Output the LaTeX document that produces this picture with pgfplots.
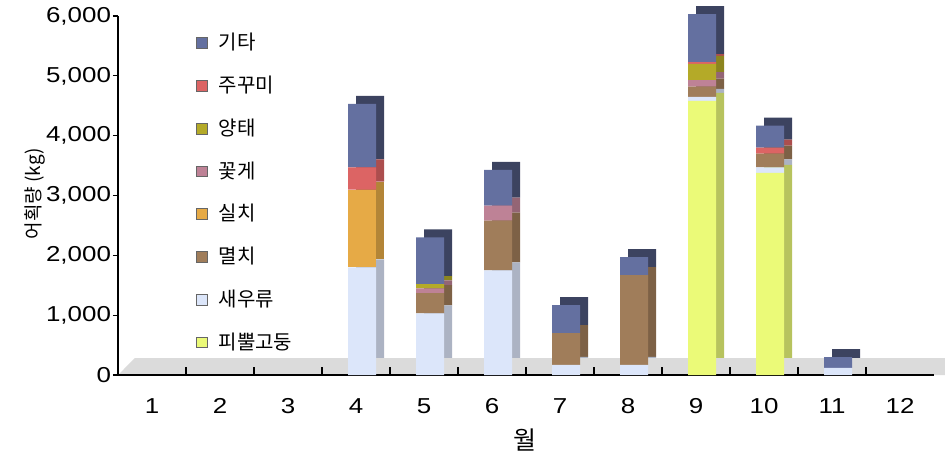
\documentclass[border=0pt]{standalone}
\usepackage{pgfplots}
\pgfplotsset{compat=1.18}
\usepackage{pgfplotstable}
\usepackage{fontspec}
\setmainfont{Liberation Sans}
\newfontfamily\kr{Noto Sans CJK KR}
\newfontfamily\tickfont[FakeStretch=1.2]{Liberation Sans}

\definecolor{cGT}{RGB}{100,112,160}
\definecolor{cJK}{RGB}{220,100,100}
\definecolor{cYT}{RGB}{180,170,40}
\definecolor{cKG}{RGB}{190,130,150}
\definecolor{cSC}{RGB}{230,170,70}
\definecolor{cMC}{RGB}{160,125,90}
\definecolor{cSW}{RGB}{220,230,250}
\definecolor{cPP}{RGB}{235,250,120}

% stack order bottom -> top
\pgfplotstableread{
m  pp   sw   mc   sc   kg   yt   jk   gt
1  0    0    0    0    0    0    0    0
2  0    0    0    0    0    0    0    0
3  0    0    0    0    0    0    0    0
4  0    1800 0    1300 0    0    370  1060
5  0    1030 340  0    80   70   0    780
6  0    1750 830  0    250  0    0    600
7  0    170  530  0    0    0    0    470
8  0    170  1500 0    0    0    0    300
9  4580 70   170  0    110  270  30   800
10 3380 90   230  0    0    0    100  370
11 0    120  0    0    0    0    0    180
12 0    0    0    0    0    0    0    0
}\data

\begin{document}
\begin{tikzpicture}
\pgfplotsset{
  base/.style={width=408pt, height=179.5pt, scale only axis,
    xmin=0.5, xmax=12.5, ymin=0, ymax=6000, clip=false,
    ybar stacked, bar width=14pt, at={(0,0)}, anchor=south west},
}
\begin{axis}[base,
  axis x line=bottom, axis y line=left,
  axis line style={-, black, line width=0.7pt},
  tick align=outside,
  xtick={1,...,12},
  major x tick style={draw=none},
  minor xtick={1.5,2.5,...,11.5},
  minor tick length=4pt,
  minor x tick style={black, line width=0.6pt, yshift=4pt},
  ytick={0,1000,...,6000},
  major tick length=2.5pt,
  y tick style={black, line width=0.6pt},
  scaled y ticks=false,
  /pgf/number format/assume math mode=true,
  /pgf/number format/1000 sep={,},
  ticklabel style={font=\tickfont\fontsize{10.8}{12}\selectfont},
  xticklabel style={anchor=center, yshift=-13pt},
  yticklabel style={anchor=east, xshift=2.5pt},
  xlabel={\kr 월},
  ylabel={\kr 어획량 (kg)},
  every axis x label/.style={at={(axis description cs:0.499,-0.181)}, anchor=center, font=\fontsize{12.5}{14}\selectfont},
  every axis y label/.style={at={(axis description cs:-0.1017,0.505)}, rotate=90, anchor=center, font=\fontsize{9.5}{12}\selectfont},
  axis on top,
  every axis plot/.append style={bar shift=7pt, yshift=4pt, draw=none},
]
\fill[gray!28] (rel axis cs:0,0) -- (rel axis cs:1.0135,0) -- (rel axis cs:1.0135,0.0474) -- (rel axis cs:0.0208,0.0474) -- cycle;
\addplot[fill=cPP!78!black] table[x=m,y=pp] {\data};
\addplot[fill=cSW!78!black] table[x=m,y=sw] {\data};
\addplot[fill=cMC!78!black] table[x=m,y=mc] {\data};
\addplot[fill=cSC!78!black] table[x=m,y=sc] {\data};
\addplot[fill=cKG!78!black] table[x=m,y=kg] {\data};
\addplot[fill=cYT!78!black] table[x=m,y=yt] {\data};
\addplot[fill=cJK!78!black] table[x=m,y=jk] {\data};
\addplot[fill=cGT!60!black] table[x=m,y=gt] {\data};
\end{axis}
\begin{axis}[base, hide axis,
  every axis plot/.append style={bar shift=3pt, draw=none},
  reverse legend,
  legend cell align=left,
  legend image code/.code={\draw[#1, draw=black!60, line width=0.3pt] (0pt,-2.7pt) rectangle (5.4pt,2.7pt);},
  legend style={draw=none, fill=none, at={(axis description cs:0.088,0.975)}, anchor=north west,
    font=\kr\fontsize{10}{12}\selectfont, row sep=7.6pt,
    /tikz/every odd column/.style={inner xsep=1pt, column sep=3.5pt}},
]
\addplot[fill=cPP] table[x=m,y=pp] {\data};\addlegendentry{피뿔고둥}
\addplot[fill=cSW] table[x=m,y=sw] {\data};\addlegendentry{새우류}
\addplot[fill=cMC] table[x=m,y=mc] {\data};\addlegendentry{멸치}
\addplot[fill=cSC] table[x=m,y=sc] {\data};\addlegendentry{실치}
\addplot[fill=cKG] table[x=m,y=kg] {\data};\addlegendentry{꽃게}
\addplot[fill=cYT] table[x=m,y=yt] {\data};\addlegendentry{양태}
\addplot[fill=cJK] table[x=m,y=jk] {\data};\addlegendentry{주꾸미}
\addplot[fill=cGT] table[x=m,y=gt] {\data};\addlegendentry{기타}
\end{axis}
\pgfresetboundingbox
\path[use as bounding box] (-59pt,-44pt) rectangle (413.5pt,187.5pt);
\end{tikzpicture}
\end{document}
